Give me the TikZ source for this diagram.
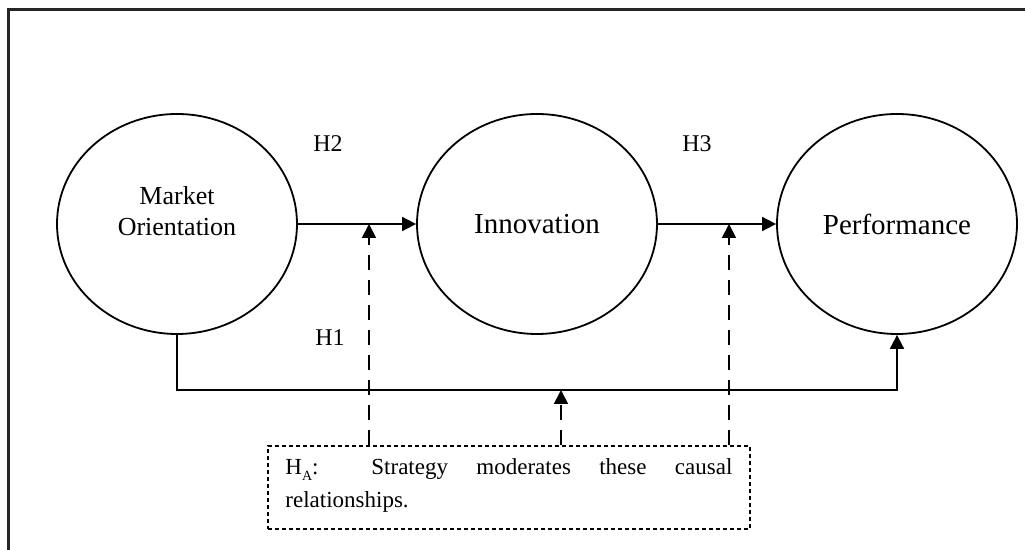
\documentclass[tikz,border=0pt]{standalone}
\usepackage{fontspec}
\setmainfont{Liberation Serif}
\usetikzlibrary{shapes.geometric,arrows.meta,calc}
\begin{document}
\begin{tikzpicture}[x=0.5pt,y=-0.5pt,
  construct/.style={draw,line width=0.9pt,ellipse,minimum width=120pt,minimum height=110pt,inner sep=0pt,align=center},
  arr/.style={line width=0.9pt,-{Triangle[length=7pt,width=7pt]}},
  dasharr/.style={arr,dash pattern=on 7.5pt off 5pt},
  lbl/.style={font=\fontsize{12}{14}\selectfont,inner sep=0pt},
  mbox/.style={draw,line width=0.9pt,dash pattern=on 2pt off 1.5pt,minimum width=241pt,minimum height=41.5pt,inner sep=0pt}
]
\useasboundingbox (0,0) rectangle (1025,550);
% frame
\draw[line width=1.3pt,black!85] (8.5,552) -- (8.5,9.5) -- (1027,9.5);
% constructs
\node[construct,font=\fontsize{13}{15}\selectfont] (mo) at (177,224) {};
\node[font=\fontsize{13}{15.5}\selectfont,align=center,inner sep=0pt] (motext) at (177,211) {Market\\Orientation};
\node[construct,font=\fontsize{14.5}{17}\selectfont] (in) at (537,224) {Innovation};
\node[construct,font=\fontsize{14.5}{17}\selectfont] (pf) at (897,224) {Performance};
% moderator box
\node[mbox] (box) at (509,487.5) {};
\node[font=\fontsize{11.5}{16.5}\selectfont,text width=223.5pt,align=justify,inner sep=0pt,anchor=north west] (boxtext) at (285,458)
  {H\raisebox{-0.6ex}{\fontsize{7}{8}\selectfont A}: Strategy moderates these causal\linebreak relationships.};
% main paths
\draw[arr] (mo.east) -- (in.west);
\draw[arr] (in.east) -- (pf.west);
\coordinate (bl) at (177,390);
\draw[arr] (mo.south) -- (mo.south |- bl) -| (pf.south);
% moderation arrows
\coordinate (m1) at (369,224);
\coordinate (m2) at (561,390);
\coordinate (m3) at (729,224);
\draw[dasharr] (m1 |- box.north) -- (m1);
\draw[dasharr] (m2 |- box.north) -- (m2);
\draw[dasharr] (m3 |- box.north) -- (m3);
% labels
\node[lbl] (h2) at (328,144) {H2};
\node[lbl] (h3) at (697,144) {H3};
\node[lbl] (h1) at (330,338) {H1};
\end{tikzpicture}
\end{document}
